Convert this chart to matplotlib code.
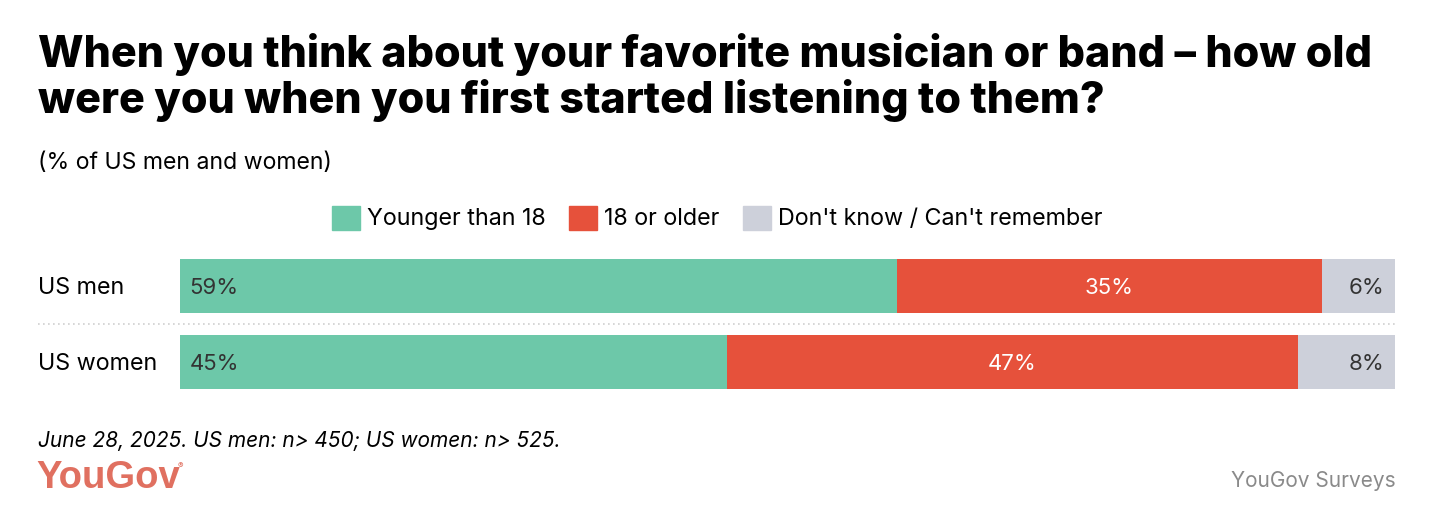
import matplotlib.pyplot as plt
from matplotlib.lines import Line2D
from matplotlib.patches import Patch

plt.rcParams['font.family'] = ['Inter', 'DejaVu Sans']

# data
groups = ['US men', 'US women']
series = ['Younger than 18', '18 or older', "Don't know / Can't remember"]
younger = [59, 45]
older = [35, 47]
dont_know = [6, 8]

colors = ['#6dc8a9', '#e6513b', '#cdd0da']
text_colors = ['#333333', 'white', '#333333']

W, H = 1452, 530
fig = plt.figure(figsize=(W / 100, H / 100), dpi=100)

# axes placed so bars land where the reference has them
ax = fig.add_axes([180 / W, 1 - 400 / H, 1215 / W, 152 / H])
ax.set_xlim(0, 100)
ax.set_ylim(1.5, -0.5)
ax.axis('off')

left = [0] * len(groups)
for vals, col, tcol in zip([younger, older, dont_know], colors, text_colors):
    ax.barh(range(len(groups)), vals, left=left, height=54 / 76, color=col)
    for i, v in enumerate(vals):
        if col == colors[0]:
            ax.text(left[i] + 0.8, i + 0.02, f'{v}%', ha='left', va='center', fontsize=16, color=tcol)
        elif col == colors[1]:
            ax.text(left[i] + v / 2, i + 0.02, f'{v}%', ha='center', va='center', fontsize=16, color=tcol)
        else:
            ax.text(left[i] + v - 0.9, i + 0.02, f'{v}%', ha='right', va='center', fontsize=16, color=tcol)
    left = [l + v for l, v in zip(left, vals)]

for i, g in enumerate(groups):
    ax.text(-142 / 1215 * 100, i + 0.02, g, ha='left', va='center', fontsize=16.8, color='black')

# dotted separator
fig.add_artist(Line2D([38 / W, 1395 / W], [1 - 324 / H] * 2, color='#d0d0d0',
                      linestyle=(0, (1, 2)), linewidth=1.2))

# title and subtitle
fig.text(38 / W, 1 - 33 / H,
         'When you think about your favorite musician or band – how old\n'
         'were you when you first started listening to them?',
         ha='left', va='top', fontsize=31, fontweight='heavy', linespacing=1.1)
fig.text(38 / W, 1 - 163 / H, '(% of US men and women)', ha='left', va='center', fontsize=16.6)

# legend
handles = [Patch(color=c) for c in colors]
fig.legend(handles, series, loc='center', bbox_to_anchor=(717 / W, 1 - 218 / H), ncol=3,
           frameon=False, fontsize=16.8, handlelength=1.2, handleheight=1.2,
           handletextpad=0.3, columnspacing=1.0, borderpad=0)

# footer
fig.text(38 / W, 1 - 441 / H, 'June 28, 2025. US men: n> 450; US women: n> 525.',
         ha='left', va='center', fontsize=15, style='italic')
fig.text(36 / W, 1 - 478 / H, 'YouGov', ha='left', va='center', fontsize=27.5,
         fontweight='bold', color='#e07060', family=['Liberation Sans', 'DejaVu Sans'])
fig.text(178 / W, 1 - 466 / H, '®', ha='left', va='center', fontsize=6, color='#e07060')
fig.text(1396 / W, 1 - 481 / H, 'YouGov Surveys', ha='right', va='center', fontsize=15,
         color='#8a8a8a')

fig.savefig('out.png', dpi=100, facecolor='white')
